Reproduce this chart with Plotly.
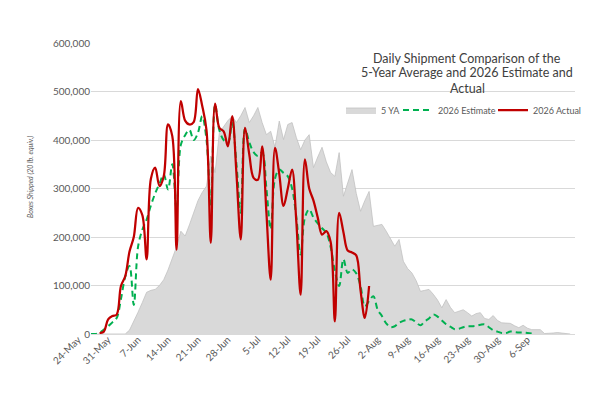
import pandas as pd
import plotly.graph_objects as go

# ---- data (boxes shipped, thousands) ----
start_date = "2026-05-24"

five_ya_k = [0, 0, 0, 0, 0, 0, 0, 0, 0, 8, 25, 45, 65, 86, 90, 92, 100, 112, 132, 154,
             180, 212, 202, 225, 250, 275, 292, 305, 367, 333, 415, 428, 440, 449, 436, 450, 467, 436, 450, 467,
             436, 411, 418, 385, 439, 401, 432, 436, 405, 380, 400, 411, 343, 365, 385, 355, 333, 325, 374, 284,
             310, 339, 290, 253, 275, 294, 222, 224, 226, 212, 195, 181, 195, 150, 135, 126, 110, 88, 90, 92,
             82, 70, 54, 71, 55, 44, 47, 50, 44, 37, 42, 44, 32, 30, 38, 28, 23, 22, 22, 17,
             13, 18, 12, 9, 9, 9, 1, 1, 2, 3, 2, 1, 0]

estimate_k = [0, 0, 3, 9, 16, 24, 33, 72, 118, 140, 60, 180, 215, 236, 265, 290, 310, 329, 298, 350,
              257, 390, 410, 421, 400, 415, 449, 400, 264, 473, 420, 400, 394, 435, 350, 250, 423, 395, 375, 367,
              374, 300, 216, 320, 339, 332, 325, 300, 240, 164, 240, 257, 240, 228, 218, 209, 180, 130, 99, 154,
              126, 133, 125, 99, 57, 68, 78, 50, 37, 22, 14, 16, 23, 27, 29, 30, 24, 18, 26, 32,
              40, 36, 28, 20, 15, 10, 11, 14, 16, 16, 17, 19, 20, 14, 8, 5, 2, 2, 5, 4,
              3, 3, 2, 1]

actual_start_day = 2
actual_k = [2, 5, 30, 37, 40, 99, 119, 170, 200, 260, 245, 154, 320, 343, 305, 325, 432, 408,
            174, 480, 440, 432, 437, 505, 470, 420, 188, 475, 425, 418, 387, 449, 330, 195, 425, 370, 322, 318,
            387, 250, 112, 384, 330, 264, 300, 339, 230, 81, 360, 300, 275, 240, 205, 212, 190, 26,
            250, 210, 172, 168, 162, 90, 33, 99]

tick_dates = pd.date_range("2026-05-24", "2026-09-06", freq="7D")

dates = pd.date_range(start_date, periods=len(five_ya_k), freq="D")
est_dates = dates[:len(estimate_k)]
act_dates = dates[actual_start_day:actual_start_day + len(actual_k)]

five_ya = [v * 1000 for v in five_ya_k]
estimate = [v * 1000 for v in estimate_k]
actual = [v * 1000 for v in actual_k]

FONT = "Lato"
GREY_TXT = "#595959"

fig = go.Figure()
fig.add_trace(go.Scatter(x=dates, y=five_ya, name="5 YA", mode="lines",
                         fill="tozeroy", fillcolor="#D9D9D9", legendwidth=12,
                         line=dict(color="#BFBFBF", width=0.75)))
fig.add_trace(go.Scatter(x=est_dates, y=estimate, name="2026 Estimate", mode="lines", legendwidth=50,
                         line=dict(color="#00B050", width=2, dash="6px,4px", shape="spline", smoothing=1)))
fig.add_trace(go.Scatter(x=act_dates, y=actual, name="2026 Actual", mode="lines",
                         line=dict(color="#C00000", width=2.25, shape="spline", smoothing=1)))

L, R, T, B = 91, 25, 43, 66
plot_w = 600 - L - R
plot_h = 400 - T - B


def px_x(px):
    return (px - L) / plot_w


def px_y(py):
    return (400 - B - py) / plot_h


title_lines = ["Daily Shipment Comparison of the",
               "5-Year Average and 2026 Estimate and",
               "Actual"]
for i, line in enumerate(title_lines):
    fig.add_annotation(text=line, xref="paper", yref="paper", x=px_x(467), y=px_y(58 + 15 * i),
                       xanchor="center", yanchor="middle", showarrow=False,
                       font=dict(family=FONT, size=12.5, color="#404040"))

fig.add_annotation(text="<i>Boxes Shipped (20 lb. equiv.)</i>", xref="paper", yref="paper",
                   x=px_x(30), y=px_y(177), textangle=-90, showarrow=False,
                   xanchor="center", yanchor="middle",
                   font=dict(family=FONT, size=7, color=GREY_TXT))

fig.update_layout(
    width=600, height=400,
    margin=dict(l=L, r=R, t=T, b=B),
    paper_bgcolor="white", plot_bgcolor="white",
    font=dict(family=FONT, color=GREY_TXT),
    showlegend=True,
    legend=dict(orientation="h", x=px_x(586), xanchor="right", y=px_y(110), yanchor="middle",
                font=dict(family=FONT, size=9, color=GREY_TXT), bgcolor="rgba(0,0,0,0)",
                itemwidth=30, tracegroupgap=0),
    xaxis=dict(type="date", range=["2026-05-24", "2026-09-14 03:00"],
               tickmode="array", tickvals=list(tick_dates), tickformat="%-d-%b",
               ticklabelshift=-13, ticklabelstandoff=-5,
               tickangle=-45, tickfont=dict(family=FONT, size=10, color=GREY_TXT),
               showgrid=False, showline=True, linecolor="#D9D9D9", ticks=""),
    yaxis=dict(range=[0, 600000], dtick=100000, tickformat=",",
               tickfont=dict(family=FONT, size=10, color=GREY_TXT),
               showgrid=True, gridcolor="#D9D9D9", gridwidth=1, zeroline=False,
               showline=False, ticks=""),
)

fig.write_html("out.html")
